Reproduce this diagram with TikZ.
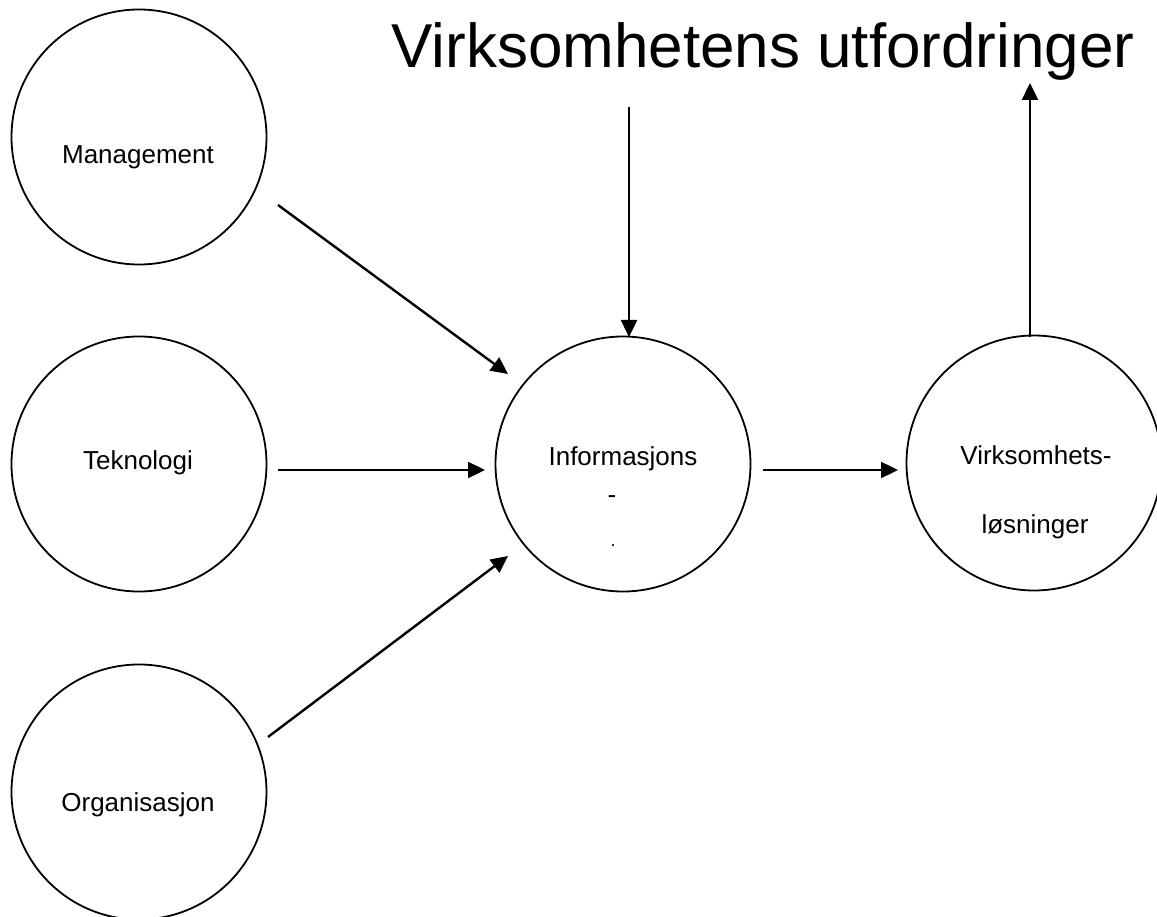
\documentclass[tikz,border=0pt]{standalone}
\usepackage{fontspec}
\setmainfont{Liberation Sans}
\usetikzlibrary{arrows.meta}
\begin{document}
\begin{tikzpicture}[x=1pt,y=-1pt,
  disc/.style={draw,circle,line width=1.8pt,minimum size=255pt,inner sep=0pt},
  lbl/.style={font=\fontsize{26}{30}\selectfont,inner sep=0pt},
  flow/.style={line width=2.4pt,-{Triangle[length=17pt,width=16pt]}}]
\useasboundingbox (0,0) rectangle (1157,917);
\clip (0,0) rectangle (1157,917);
% factor circles
\node[disc] (man) at (139,137) {};
\node[disc] (tek) at (139,464) {};
\node[disc] (org) at (139,792) {};
\node[disc] (inf) at (623,464) {};
\node[disc] (vir) at (1034,463) {};
% labels
\node[lbl] (tman) at (138,157) {Management};
\node[lbl] (ttek) at (138,463) {Teknologi};
\node[lbl] (torg) at (138,805) {Organisasjon};
\node[lbl] (tinf1) at (623,459) {Informasjons};
\node[lbl] (tinf2) at (612,500) {-};
\node[lbl,font=\fontsize{18}{20}\selectfont] (tinf3) at (613,546) {.};
\node[lbl] (tvir1) at (1036,455) {Virksomhets-};
\node[lbl] (tvir2) at (1035,527) {løsninger};
\node[inner sep=0pt,font=\fontsize{62}{70}\selectfont] (title) at (763,51) {Virksomhetens utfordringer};
% connector end points
\coordinate (a1) at (278,205);
\coordinate (a2) at (508,374);
\coordinate (b1) at (278,470);
\coordinate (b2) at (485,470);
\coordinate (c1) at (268,737);
\coordinate (c2) at (508,556);
\coordinate (d1) at (629,107);
\coordinate (d2) at (629,337);
\coordinate (e1) at (763,470);
\coordinate (e2) at (898,470);
\coordinate (f1) at (1030,337);
\coordinate (f2) at (1030,83);
% connectors
\draw[flow] (a1) -- (a2);
\draw[flow] (b1) -- (b2);
\draw[flow] (c1) -- (c2);
\draw[flow] (d1) -- (d2);
\draw[flow] (e1) -- (e2);
\draw[flow] (f1) -- (f2);
\end{tikzpicture}
\end{document}
